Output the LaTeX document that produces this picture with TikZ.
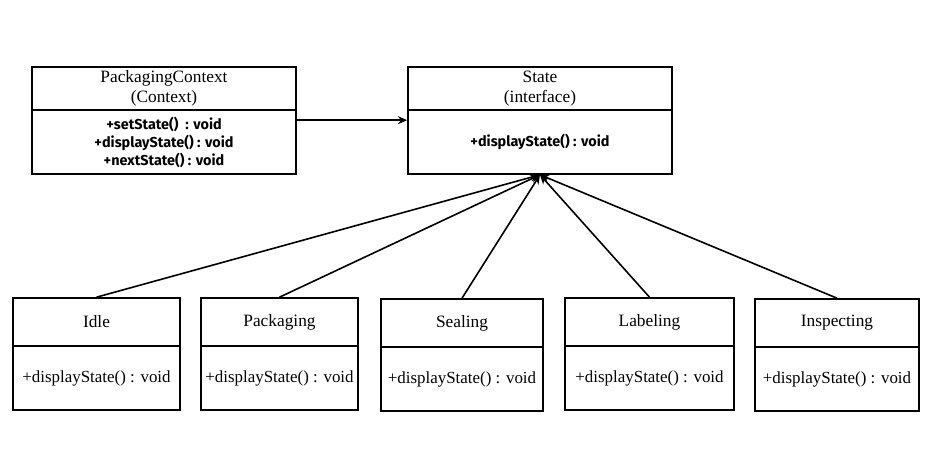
\documentclass[tikz,border=0pt]{standalone}
\usepackage{fontspec}
\setmainfont{Liberation Serif}
\newfontfamily\methfont{Fira Sans}
\usetikzlibrary{arrows.meta, positioning, calc}

\begin{document}
\begin{tikzpicture}[x=0.75pt, y=-0.75pt,
  head/.style={draw, line width=1.2pt, align=center, inner sep=2pt,
               font=\fontsize{13}{14.5}\selectfont},
  body/.style={draw, line width=1.2pt, align=center, inner sep=2pt,
               font=\fontsize{12.7}{14}\selectfont},
  ctxbody/.style={body, font=\methfont\bfseries\fontsize{10.8}{13.5}\selectfont},
  link/.style={-{Stealth[length=7pt, width=6pt]}, line width=1.2pt},
]
\useasboundingbox (0,0) rectangle (945,473);

% Context and interface
\node[head, minimum width=198pt, minimum height=32.25pt] (ctxhead) at (164, 88.5) {PackagingContext\\(Context)};
\node[ctxbody, minimum width=198pt, minimum height=48pt] (ctx) at (164, 142)
  {+setState()\ \ : void\\+displayState() : void\\+nextState() : void};
\node[head, minimum width=198pt, minimum height=32.25pt] (statehead) at (540, 88.5) {State\\(interface)};
\node[ctxbody, minimum width=198pt, minimum height=48pt] (state) at (540, 142) {+displayState() : void};

\draw[link] ([yshift=-8.25pt]ctx.north east) -- ([yshift=-8.25pt]state.north west);

% Concrete states
\node[head, minimum width=125.25pt, minimum height=36pt] (idlehead) at (96.5, 322) {Idle};
\node[body, minimum width=125.25pt, minimum height=48pt] (idle) at (96.5, 378) {+displayState() : void};
\node[head, minimum width=117.75pt, minimum height=36pt] (packhead) at (279.5, 322) {Packaging};
\node[body, minimum width=117.75pt, minimum height=48pt] (pack) at (279.5, 378) {+displayState() : void};
\node[head, minimum width=121.5pt, minimum height=36pt] (sealhead) at (462, 323) {Sealing};
\node[body, minimum width=121.5pt, minimum height=48pt] (seal) at (462, 379) {+displayState() : void};
\node[head, minimum width=126.75pt, minimum height=36pt] (labelhead) at (649.5, 322) {Labeling};
\node[body, minimum width=126.75pt, minimum height=48pt] (label) at (649.5, 378) {+displayState() : void};
\node[head, minimum width=123pt, minimum height=36pt] (inspecthead) at (837, 323) {Inspecting};
\node[body, minimum width=123pt, minimum height=48pt] (inspect) at (837, 379) {+displayState() : void};

\foreach \s in {idlehead, packhead, sealhead, labelhead, inspecthead}
  \draw[link] (\s.north) -- (state.south);
\end{tikzpicture}
\end{document}
